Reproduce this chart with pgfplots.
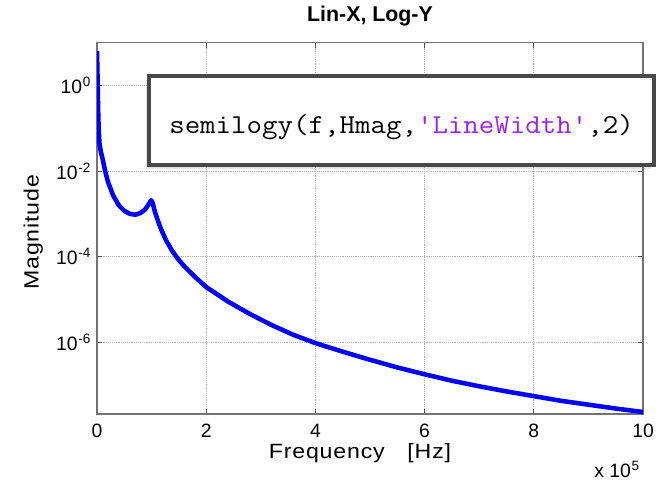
\documentclass[border=0pt]{standalone}
\usepackage{pgfplots}
\pgfplotsset{compat=1.18}
\usepackage{fontspec}
\setmainfont{Liberation Sans}
\newfontfamily\labelfont{Liberation Sans}[FakeStretch=1.12,LetterSpace=4]
\newfontfamily\codefont{Latin Modern Mono}[FakeStretch=1.1]
\usetikzlibrary{shadows}
\definecolor{mblue}{RGB}{0,0,255}
\definecolor{mpurple}{RGB}{160,32,240}
\definecolor{boxgray}{RGB}{72,72,72}
\newcommand\sps[1]{\kern0.5pt\textsuperscript{#1}}
\begin{document}
\begin{tikzpicture}
\path[use as bounding box] (0,0) rectangle (494.25pt,365.25pt);
\begin{axis}[
  at={(72.75pt,54.75pt)}, anchor=south west,
  scale only axis, width=409.5pt, height=278.5pt,
  xmin=0, xmax=10, ymode=log, ymin=2.1e-8, ymax=10,
  xtick={0,2,4,6,8,10}, xticklabels={0,2,4,6,8,10},
  ytick={1,1e-2,1e-4,1e-6},
  yticklabels={10\sps{0},10\sps{-2},10\sps{-4},10\sps{-6}},
  yminorticks=false, minor y tick num=0,
  tick pos=both, tick align=inside, major tick length=4pt,
  grid=major, major grid style={densely dotted, black!30, line width=0.5pt},
  axis line style={black!55, line width=0.8pt},
  tick style={black!70, line width=0.6pt},
  ticklabel style={font=\fontsize{14.5}{16}\selectfont, text=black},
  xticklabel style={yshift=-4pt},
  yticklabel style={xshift=-1pt},
]
\addplot[mblue, line width=3.4pt, line join=round] coordinates {
(0.0,6.31) (0.01,1.585) (0.02,0.316) (0.03,0.1) (0.045,0.0447) (0.07,0.0282)
(0.1,0.01995) (0.15,0.01) (0.2,0.00562) (0.3,0.00263) (0.4,0.00158)
(0.5,0.001175) (0.6,0.001) (0.7,0.000955) (0.8,0.001047) (0.88,0.001259)
(0.95,0.001698) (0.99,0.002089) (1.02,0.001778) (1.06,0.001122) (1.12,0.000661)
(1.18,0.000417) (1.27,0.000234) (1.37,0.000141) (1.48,8.91e-5) (1.61,5.75e-5)
(1.8,3.31e-5) (2.0,1.95e-5) (2.4,8.91e-6) (2.8,4.57e-6) (3.2,2.51e-6) (3.6,1.48e-6)
(4.0,9.55e-7) (4.27,7.41e-7) (4.6,5.50e-7) (5.0,3.89e-7) (5.5,2.57e-7)
(6.0,1.78e-7) (6.5,1.26e-7) (7.0,9.33e-8) (7.5,7.08e-8) (8.0,5.50e-8)
(8.5,4.27e-8) (9.0,3.47e-8) (9.5,2.82e-8) (10.0,2.34e-8)
};
\end{axis}
% title and labels
\node[font=\bfseries\fontsize{16}{18}\selectfont] at (277.5pt,353.25pt) {Lin-X, Log-Y};
\node[rotate=90, font=\labelfont\fontsize{15.5}{17}\selectfont] at (25pt,191pt) {Magnitude};
\node[anchor=base, font=\labelfont\fontsize{15.5}{17}\selectfont] at (270pt,21.75pt) {Frequency\hspace{17pt}[Hz]};
\node[font=\fontsize{14.5}{16}\selectfont] at (462.75pt,13pt) {x 10\sps{5}};
% annotation box
\draw[boxgray, line width=3pt, fill=white, drop shadow={shadow xshift=-2pt, shadow yshift=-3pt, opacity=0.22}]
  (111.75pt,308.25pt) rectangle (490.5pt,241.5pt);
\node[anchor=base west, inner sep=0pt, font=\codefont\fontsize{20.5}{23}\selectfont] at (126.75pt,265.5pt)
  {semilogy(f,Hmag,\textcolor{mpurple}{'LineWidth'},2)};
\end{tikzpicture}
\end{document}
